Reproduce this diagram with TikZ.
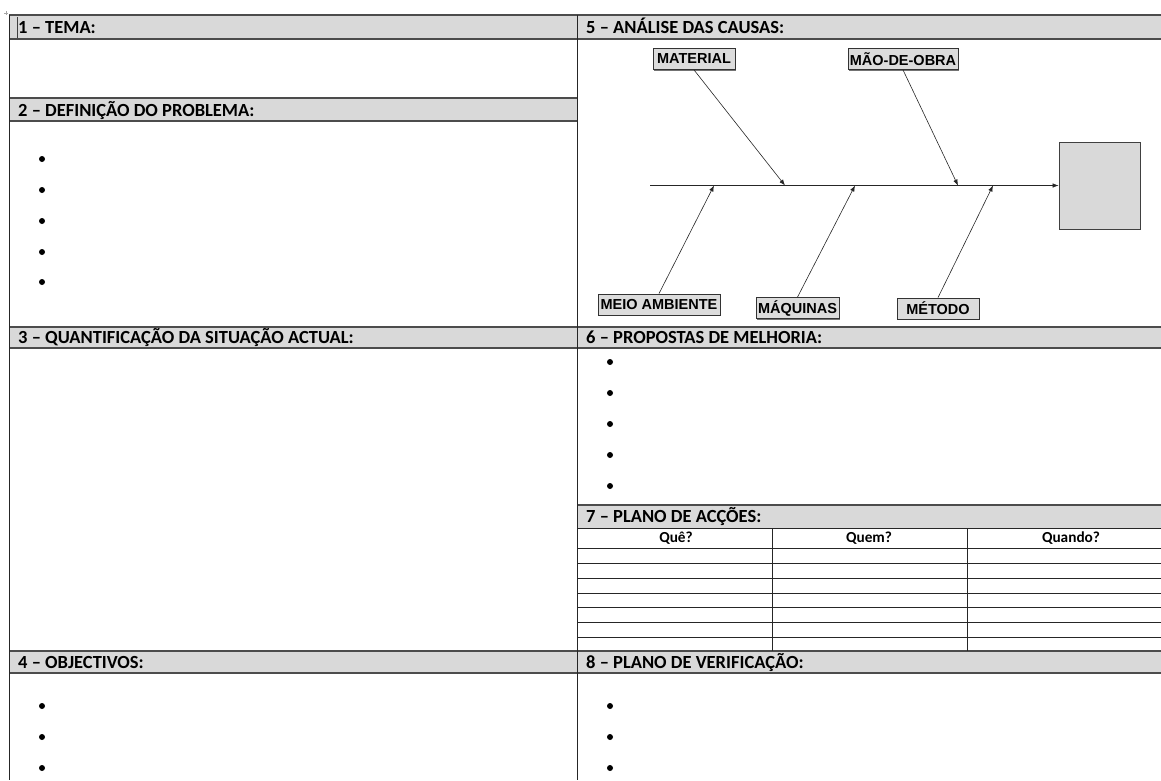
\documentclass[tikz,border=0pt]{standalone}
\usepackage{fontspec}
\setmainfont{Carlito}
\newfontfamily\arialfam{Liberation Sans}
\usetikzlibrary{arrows.meta,shadows}

\definecolor{headgray}{RGB}{217,217,217}
\definecolor{causegray}{RGB}{220,220,220}
\newcommand{\hdfont}{\fontsize{18.5}{21}\selectfont\bfseries}
\newcommand{\colfont}{\fontsize{15.3}{17}\selectfont\bfseries}
\newcommand{\causefont}{\arialfam\fontsize{14.5}{16}\selectfont\bfseries}

\begin{document}
\begin{tikzpicture}[x=1pt,y=-1pt,
  band/.style={fill=headgray},
  hrule/.style={draw=black!70, line width=1.2pt},
  vrule/.style={draw=black!85, line width=0.9pt},
  trule/.style={draw=black!85, line width=0.8pt},
  title/.style={anchor=base west, inner sep=0pt, font=\hdfont},
  colhead/.style={anchor=base, inner sep=0pt, font=\colfont},
  dot/.style={circle, fill=black, inner sep=0pt, minimum size=6pt},
  cause/.style={draw=black!80, fill=causegray, line width=0.8pt, inner sep=0pt,
    minimum height=21pt, font=\causefont,
    drop shadow={shadow xshift=1.2pt, shadow yshift=-1.2pt, fill=black!55, opacity=1}},
  bone/.style={draw=black!85, line width=0.6pt, -{Latex[length=6pt,width=4.5pt]}},
  effectbox/.style={draw=black!75, fill=headgray, line width=0.9pt, inner sep=0pt,
    minimum width=81pt, minimum height=87pt}
]
\useasboundingbox (0,0) rectangle (1161,780);

% ---- header bands ----
\fill[band] (9,15) rectangle (1161,39);
\fill[band] (9,98) rectangle (577,121);
\fill[band] (9,327) rectangle (1161,348);
\fill[band] (577,505) rectangle (1161,528);
\fill[band] (9,651) rectangle (1161,673);

% ---- horizontal rules ----
\draw[hrule] (9,15) -- (1161,15);
\draw[hrule] (9,39) -- (1161,39);
\draw[hrule] (9,98) -- (577,98);
\draw[hrule] (9,121) -- (577,121);
\draw[hrule] (9,327) -- (1161,327);
\draw[hrule] (9,348) -- (1161,348);
\draw[hrule] (577,505) -- (1161,505);
\draw[trule] (577,528) -- (1161,528);
\foreach \y in {548,563,578,593,607,622,637}
  \draw[trule] (577,\y) -- (1161,\y);
\draw[hrule] (9,651) -- (1161,651);
\draw[hrule] (9,673) -- (1161,673);

% ---- vertical rules ----
\draw[vrule] (9,15) -- (9,780);
\draw[vrule] (577,15) -- (577,780);
\draw[trule] (772,528) -- (772,651);
\draw[trule] (967,528) -- (967,651);

% ---- text cursor and table handle ----
\draw[black!75, line width=0.6pt] (17.5,17) -- (17.5,38);
\draw[black!35, line width=0.5pt] (4,13) -- (8,13) (6,11) -- (6,15);

% ---- section titles ----
\node[title] (h1) at (18,33.3) {1 – TEMA:};
\node[title] (h2) at (18,116.5) {2 – DEFINIÇÃO DO PROBLEMA:};
\node[title] (h3) at (18,343.5) {3 – QUANTIFICAÇÃO DA SITUAÇÃO ACTUAL:};
\node[title] (h4) at (18,668) {4 – OBJECTIVOS:};
\node[title] (h5) at (586,33.3) {5 – ANÁLISE DAS CAUSAS:};
\node[title] (h6) at (586,343.5) {6 – PROPOSTAS DE MELHORIA:};
\node[title] (h7) at (586,522.5) {7 – PLANO DE ACÇÕES:};
\node[title] (h8) at (586,668) {8 – PLANO DE VERIFICAÇÃO:};

% ---- action plan column heads ----
\node[colhead] (cq) at (676,542.5) {Quê?};
\node[colhead] (cw) at (869,542.5) {Quem?};
\node[colhead] (cd) at (1071,542.5) {Quando?};

% ---- bullets ----
\foreach \y [count=\i] in {159,190,221,252,282}
  \node[dot] (b2-\i) at (42,\y) {};
\foreach \y [count=\i] in {362,393,424,455,486}
  \node[dot] (b6-\i) at (610,\y) {};
\foreach \y [count=\i] in {706,737,768}
  \node[dot] (b4-\i) at (42,\y) {};
\foreach \y [count=\i] in {706,737,768}
  \node[dot] (b8-\i) at (610,\y) {};

% ---- cause-and-effect diagram ----
\node[effectbox] (effect) at (1099.5,185.5) {};
\coordinate (tail) at (650,185.5);
\coordinate (j1) at (714,185.5);
\coordinate (j2) at (785,185.5);
\coordinate (j3) at (855,185.5);
\coordinate (j4) at (958,185.5);
\coordinate (j5) at (993,185.5);
\draw[bone] (tail) -- (effect.west);

\node[cause, minimum width=82pt] (mat) at (694,59) {MATERIAL};
\node[cause, minimum width=110pt] (mao) at (903,59) {MÃO-DE-OBRA};
\node[cause, minimum width=122pt] (meio) at (659,304.5) {MEIO AMBIENTE};
\node[cause, minimum width=83pt] (maq) at (797.5,308) {MÁQUINAS};
\node[cause, minimum width=82pt] (met) at (938,308.5) {MÉTODO};

\draw[bone] (mat.south) -- (j2);
\draw[bone] (mao.south) -- (j4);
\draw[bone] (meio.north) -- (j1);
\draw[bone] (maq.north) -- (j3);
\draw[bone] (met.north) -- (j5);
\end{tikzpicture}
\end{document}
